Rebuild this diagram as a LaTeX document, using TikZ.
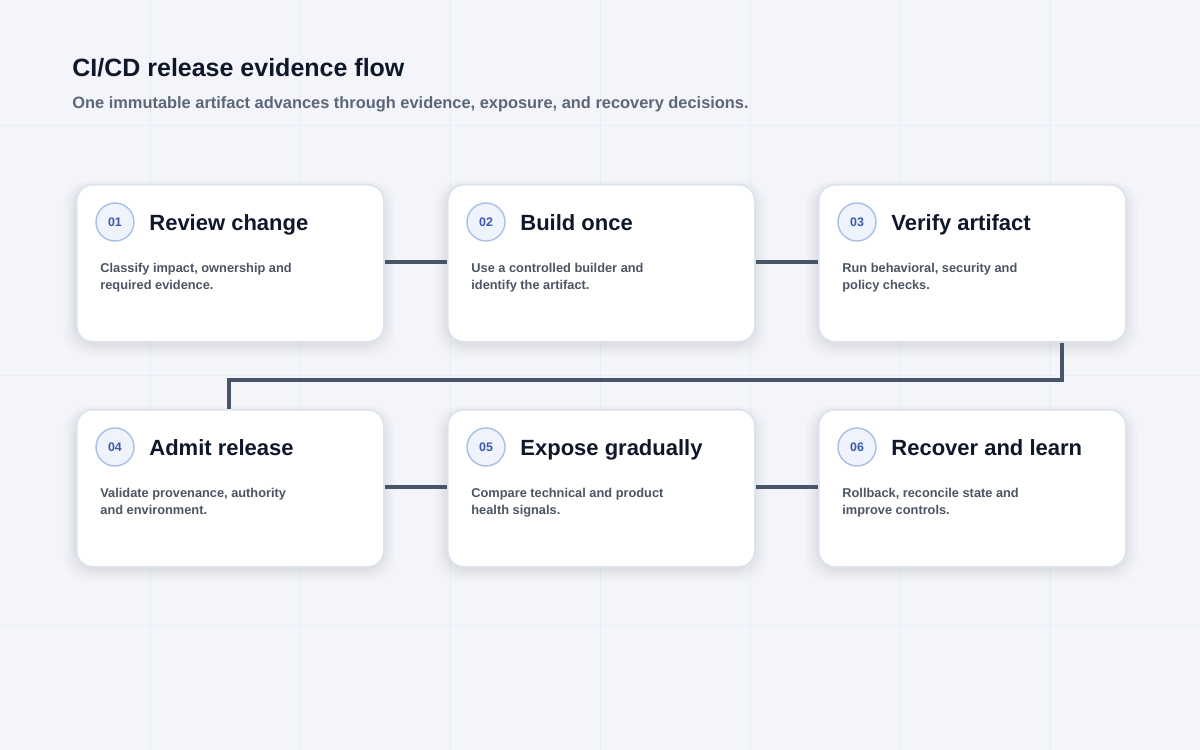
\documentclass[tikz,border=0pt]{standalone}
\usepackage{fontspec}
\setmainfont{Liberation Sans}
\usetikzlibrary{positioning}
\definecolor{bg}{HTML}{F3F5FA}
\definecolor{grid}{HTML}{EAEDF4}
\definecolor{ink}{HTML}{0F172A}
\definecolor{sub}{HTML}{5B6779}
\definecolor{body}{HTML}{4B5563}
\definecolor{edge}{HTML}{475569}
\definecolor{cardline}{HTML}{DCE3EE}
\definecolor{circfill}{HTML}{EEF3FC}
\definecolor{circline}{HTML}{A9BFE6}
\definecolor{num}{HTML}{3B5BA9}
\tikzset{
  x=0.5pt,y=-0.5pt,
  card/.style={draw=cardline,line width=0.8pt,fill=white,rounded corners=8pt,minimum width=153.5pt,minimum height=78.5pt,inner sep=0pt},
  badge/.style={circle,draw=circline,line width=0.7pt,fill=circfill,minimum size=19pt,inner sep=0pt,text=num,font=\bfseries\fontsize{6.2}{7}\selectfont},
  ttl/.style={anchor=base west,text=ink,font=\bfseries\fontsize{11}{13}\selectfont,inner sep=0pt},
  dsc/.style={anchor=north west,text=body,align=left,font=\bfseries\fontsize{6.4}{8.4}\selectfont,inner sep=0pt},
  conn/.style={draw=edge,line width=2pt},
}
\newcommand{\mkcard}[6]{% name, x, y (top-left), number, title, desc
  \foreach \k/\o in {1/0.025,2/0.02,3/0.015,4/0.012,5/0.01}{
    \fill[black,opacity=\o,rounded corners=12pt] (#2-\k*2.5,#3+2-\k*1) rectangle (#2+307+\k*2.5,#3+157+3+\k*2.5);}
  \node[card,anchor=north west] (#1) at (#2,#3) {};
  \node[badge] (#1n) at (#2+39,#3+38) {#4};
  \node[ttl] (#1t) at (#2+73,#3+46) {#5};
  \node[dsc] (#1d) at (#2+24,#3+79) {#6};
}
\begin{document}
\begin{tikzpicture}
\useasboundingbox (0,0) rectangle (1200,750);
\fill[bg] (0,0) rectangle (1200,750);
\foreach \xx in {150,300,450,600,750,900,1050} \draw[grid,line width=0.5pt] (\xx,0) -- (\xx,750);
\foreach \yy in {125,375,625} \draw[grid,line width=0.5pt] (0,\yy) -- (1200,\yy);
\node[anchor=west,text=ink,font=\bfseries\fontsize{12.5}{15}\selectfont,inner sep=0pt] (title) at (72,68) {CI/CD release evidence flow};
\node[anchor=west,text=sub,font=\bfseries\fontsize{8.2}{10}\selectfont,inner sep=0pt] (subtitle) at (72,104) {One immutable artifact advances through evidence, exposure, and recovery decisions.};
\mkcard{c1}{76}{184}{01}{Review change}{Classify impact, ownership and\\required evidence.}
\mkcard{c2}{447}{184}{02}{Build once}{Use a controlled builder and\\identify the artifact.}
\mkcard{c3}{818}{184}{03}{Verify artifact}{Run behavioral, security and\\policy checks.}
\mkcard{c4}{76}{409}{04}{Admit release}{Validate provenance, authority\\and environment.}
\mkcard{c5}{447}{409}{05}{Expose gradually}{Compare technical and product\\health signals.}
\mkcard{c6}{818}{409}{06}{Recover and learn}{Rollback, reconcile state and\\improve controls.}
\draw[conn] (c1.east |- 0,262) -- (c2.west |- 0,262);
\draw[conn] (c2.east |- 0,262) -- (c3.west |- 0,262);
\draw[conn] (c4.east |- 0,487) -- (c5.west |- 0,487);
\draw[conn] (c5.east |- 0,487) -- (c6.west |- 0,487);
\draw[conn] (c3.south -| 1062,0) -- (1062,380) -- (229,380) -- (c4.north -| 229,0);
\end{tikzpicture}
\end{document}
